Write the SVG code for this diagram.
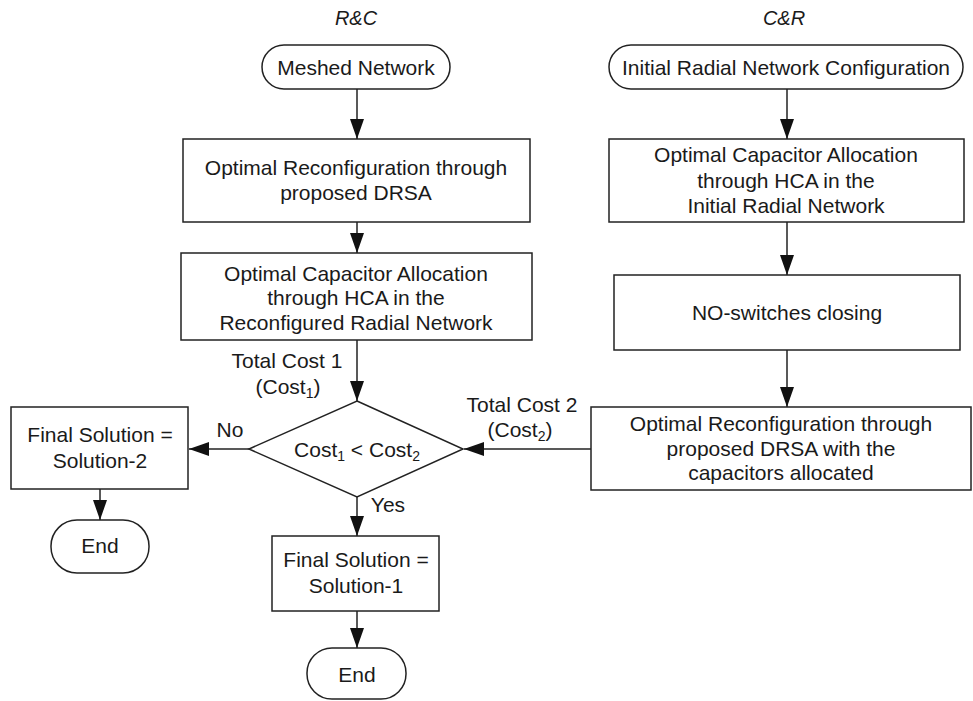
<svg xmlns="http://www.w3.org/2000/svg" width="973" height="701" viewBox="0 0 973 701">
<style>
.t{font-family:"Liberation Sans",Arial,sans-serif;font-size:21px;fill:#1a1a1a;text-anchor:middle}
.ti{font-family:"Liberation Sans",Arial,sans-serif;font-size:20px;font-style:italic;fill:#1a1a1a;text-anchor:middle}
.s{font-size:14px}
.b{fill:#fff;stroke:#222;stroke-width:1.5}
.c{fill:none;stroke:#222;stroke-width:1.5}
</style>
<defs>
<marker id="ah" markerUnits="userSpaceOnUse" markerWidth="20" markerHeight="14" refX="20" refY="7" orient="auto">
<path d="M0,0 L20,7 L0,14 z" fill="#111"/>
</marker>
</defs>
<rect width="973" height="701" fill="#fff"/>
<text class="ti" x="356" y="25">R&amp;C</text>
<text class="ti" x="784" y="25">C&amp;R</text>
<g id="connectors">
<line class="c" x1="357" y1="89" x2="357" y2="139" marker-end="url(#ah)"/>
<line class="c" x1="357" y1="222" x2="357" y2="253" marker-end="url(#ah)"/>
<line class="c" x1="357" y1="340" x2="357" y2="401" marker-end="url(#ah)"/>
<line class="c" x1="249" y1="449" x2="189" y2="449" marker-end="url(#ah)"/>
<line class="c" x1="100" y1="489" x2="100" y2="520" marker-end="url(#ah)"/>
<line class="c" x1="357" y1="497" x2="357" y2="536" marker-end="url(#ah)"/>
<line class="c" x1="357" y1="611" x2="357" y2="648" marker-end="url(#ah)"/>
<line class="c" x1="787" y1="89" x2="787" y2="139" marker-end="url(#ah)"/>
<line class="c" x1="787" y1="222" x2="787" y2="275" marker-end="url(#ah)"/>
<line class="c" x1="787" y1="350" x2="787" y2="407" marker-end="url(#ah)"/>
<line class="c" x1="591" y1="449" x2="464" y2="449" marker-end="url(#ah)"/>
<text class="t" x="287" y="368">Total Cost 1</text>
<text class="t" x="288" y="394">(Cost<tspan class="s" dy="4">1</tspan><tspan dy="-4">)</tspan></text>
<text class="t" x="522" y="412">Total Cost 2</text>
<text class="t" x="520" y="437">(Cost<tspan class="s" dy="4">2</tspan><tspan dy="-4">)</tspan></text>
<text class="t" x="230" y="437">No</text>
<text class="t" x="388" y="512">Yes</text>
</g>
<g id="meshed">
<rect class="b" x="262" y="45" width="188" height="44" rx="22"/>
<text class="t" x="356" y="74.5">Meshed Network</text>
</g>
<g id="initial">
<rect class="b" x="609" y="45" width="354" height="44" rx="22"/>
<text class="t" x="786" y="74.5">Initial Radial Network Configuration</text>
</g>
<g id="reconf1">
<rect class="b" x="183" y="139" width="347" height="83"/>
<text class="t" x="356" y="174.5">Optimal Reconfiguration through</text>
<text class="t" x="356" y="200">proposed DRSA</text>
</g>
<g id="cap1">
<rect class="b" x="181" y="253" width="351" height="87"/>
<text class="t" x="356" y="280.5">Optimal Capacitor Allocation</text>
<text class="t" x="356" y="305">through HCA in the</text>
<text class="t" x="356" y="329.5">Reconfigured Radial Network</text>
</g>
<g id="cap2">
<rect class="b" x="609" y="139" width="355" height="83"/>
<text class="t" x="786" y="162">Optimal Capacitor Allocation</text>
<text class="t" x="786" y="187.5">through HCA in the</text>
<text class="t" x="786" y="213">Initial Radial Network</text>
</g>
<g id="switches">
<rect class="b" x="614" y="275" width="346" height="75"/>
<text class="t" x="787" y="320">NO-switches closing</text>
</g>
<g id="reconf2">
<rect class="b" x="591" y="407" width="380" height="83"/>
<text class="t" x="781" y="431">Optimal Reconfiguration through</text>
<text class="t" x="781" y="455.5">proposed DRSA with the</text>
<text class="t" x="781" y="480">capacitors allocated</text>
</g>
<g id="decision">
<polygon class="b" points="357,401 463,449 357,497 249,449"/>
<text class="t" x="357" y="457">Cost<tspan class="s" dy="4">1</tspan><tspan dy="-4"> &lt; Cost</tspan><tspan class="s" dy="4">2</tspan></text>
</g>
<g id="final2">
<rect class="b" x="11" y="407" width="177" height="82"/>
<text class="t" x="100" y="442">Final Solution =</text>
<text class="t" x="100" y="468">Solution-2</text>
</g>
<g id="end2">
<rect class="b" x="51" y="520" width="98" height="53" rx="26"/>
<text class="t" x="100" y="553">End</text>
</g>
<g id="final1">
<rect class="b" x="272" y="536" width="167" height="75"/>
<text class="t" x="356" y="567">Final Solution =</text>
<text class="t" x="356" y="593">Solution-1</text>
</g>
<g id="end1">
<rect class="b" x="307" y="648" width="99" height="51" rx="25"/>
<text class="t" x="357" y="682">End</text>
</g>
</svg>
